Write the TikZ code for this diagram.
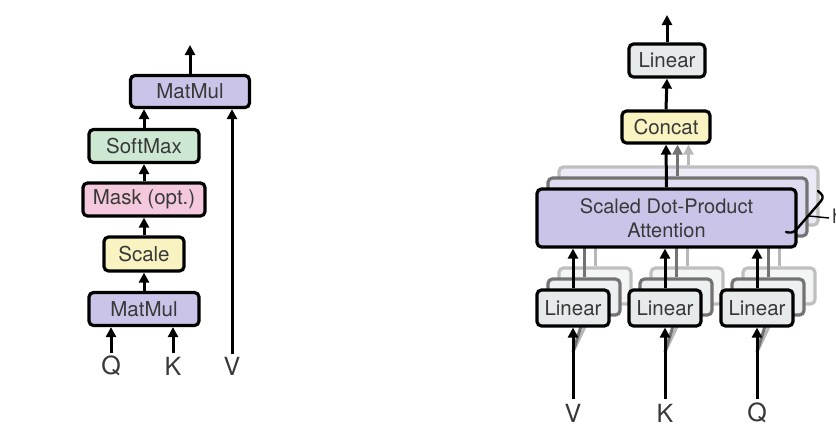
\documentclass[tikz,border=0pt]{standalone}
\usepackage{fontspec}
\setmainfont{TeX Gyre Heros}
\usetikzlibrary{arrows.meta}
\definecolor{txt}{HTML}{383838}
\definecolor{lav}{HTML}{C9C4E8}
\definecolor{mint}{HTML}{CDE8D2}
\definecolor{rose}{HTML}{F5C9DD}
\definecolor{cream}{HTML}{F9F3C2}
\definecolor{pale}{HTML}{E6EAEA}
\begin{document}
\begin{tikzpicture}[x=1pt,y=-1pt,
  box/.style={draw=black, line width=3.2pt, rounded corners=4.5pt, text=txt,
    font=\fontsize{20.5}{24}\selectfont, inner sep=0pt, align=center},
  ghostA/.style={box, draw=black!55, text opacity=0},
  ghostB/.style={box, draw=black!25, text opacity=0},
  arr/.style={line width=3pt, -{Triangle[length=10pt,width=10pt]}},
  garrA/.style={arr, draw=black!55, fill=black!55},
  garrB/.style={arr, draw=black!28, fill=black!28},
  glineA/.style={line width=3pt, draw=black!55},
  glineB/.style={line width=3pt, draw=black!28},
  lbl/.style={text=txt, font=\fontsize{25}{27}\selectfont, inner sep=0pt}]
\useasboundingbox (0,0) rectangle (836,426);

% ---------------- Scaled dot-product attention ----------------
\node[box, fill=lav,   minimum width=119pt, minimum height=32pt] (mm2) at (190,91.5) {MatMul};
\node[box, fill=mint,  minimum width=110pt, minimum height=33pt] (sm) at (144,146) {SoftMax};
\node[box, fill=rose,  minimum width=122pt, minimum height=33pt] (mask) at (144,199.5) {Mask (opt.)};
\node[box, fill=cream, minimum width=80pt,  minimum height=34pt] (scale) at (144,254) {Scale};
\node[box, fill=lav,   minimum width=110pt, minimum height=33pt] (mm1) at (144,309) {MatMul};

\node[lbl] (q1) at (111,366) {Q};
\node[lbl] (k1) at (173,366) {K};
\node[lbl] (v1) at (232,366) {V};
\coordinate (qs) at (111,353);
\coordinate (ks) at (173,353);
\coordinate (vs) at (232,354);
\coordinate (out1) at (190,45);

\draw[arr] (qs) -- (qs |- mm1.south);
\draw[arr] (ks) -- (ks |- mm1.south);
\draw[arr] (mm1.north) -- (scale.south);
\draw[arr] (scale.north) -- (mask.south);
\draw[arr] (mask.north) -- (sm.south);
\draw[arr] (sm.north) -- (sm.north |- mm2.south);
\draw[arr] (vs) -- (vs |- mm2.south);
\draw[arr] (mm2.north) -- (out1);

% ---------------- Multi-head attention ----------------
\coordinate (sdC) at (666.5,218);
\coordinate (l1C) at (573,308);
\coordinate (l2C) at (665,308);
\coordinate (l3C) at (757,308);

\node[box, fill=cream, minimum width=88pt, minimum height=32pt] (concat) at (666,127) {Concat};
\node[box, fill=pale,  minimum width=76pt, minimum height=33pt] (lin) at (667,60.5) {Linear};
\coordinate (out2) at (667,15);

% farthest copies of the heads
\node[ghostB, fill=lav!35, minimum width=259pt, minimum height=58pt] (sdB) at ([shift={(22,-22)}]sdC) {};
\foreach \i in {1,2,3}{
  \node[ghostB, fill=pale!45, minimum width=72pt, minimum height=36pt] (l\i B) at ([shift={(22,-22)}]l\i C) {};
}
% middle copies of the heads
\node[ghostA, fill=lav!60, minimum width=259pt, minimum height=58pt] (sdA) at ([shift={(11,-11)}]sdC) {};
\foreach \i in {1,2,3}{
  \draw[glineB] (l\i B.north) -- (l\i B.north |- sdB.south);
  \node[ghostA, fill=pale!70, minimum width=72pt, minimum height=36pt] (l\i A) at ([shift={(11,-11)}]l\i C) {};
}
\foreach \i in {1,2,3}{
  \draw[glineA] (l\i A.north) -- (l\i A.north |- sdA.south);
}

% front head
\node[box, fill=lav, minimum width=259pt, minimum height=58pt, font=\fontsize{20}{24}\selectfont] (sdpa) at (sdC) {Scaled Dot-Product\\Attention};

\foreach \i/\t in {1/V,2/K,3/Q}{
  \coordinate (in\i) at ([yshift=-44pt]l\i C);
  \draw[glineB] (in\i) -- (l\i B.south);
  \draw[glineA] (in\i) -- (l\i A.south);
  \node[box, fill=pale, minimum width=72pt, minimum height=36pt] (l\i) at (l\i C) {Linear};
  \draw[arr] ([yshift=-71pt]l\i.south) -- (l\i.south);
  \draw[arr] (l\i.north) -- (l\i.north |- sdpa.south);
  \node[lbl] (lab\i) at ([yshift=-105pt]l\i C) {\t};
}

\draw[garrB] (sdB.north) -- (sdB.north |- concat.south);
\draw[garrA] (sdA.north) -- (sdA.north |- concat.south);
\draw[arr] (sdpa.north) -- (concat.south);
\draw[arr] (concat.north) -- (lin.south);
\draw[arr] (lin.north) -- (out2);

% brace over the stacked heads, pointing to the head count
\coordinate (brT) at (818,191);
\coordinate (brM) at (809,216);
\coordinate (brE) at (829,218);
\draw[line width=2.4pt, line cap=round, line join=round]
  (brT) .. controls (823,195) and (824,197) .. (821,201)
  -- (796,230) .. controls (793,233) and (790,233) .. (786,232);
\draw[line width=1.4pt] (brM) -- (brE);
\node[text=txt, font=\fontsize{20}{22}\selectfont, inner sep=0pt, anchor=west] (hh) at (832,216) {h};
\end{tikzpicture}
\end{document}
